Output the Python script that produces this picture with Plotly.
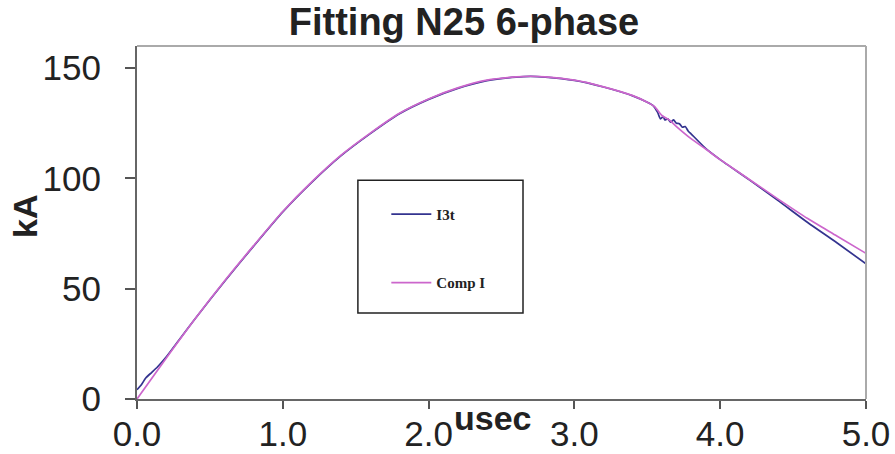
import plotly.graph_objects as go

# time axis (usec)
t_comp = [0.0, 0.2, 0.4, 0.6, 0.8, 1.0, 1.2, 1.4, 1.6, 1.8, 2.0, 2.2, 2.4, 2.6, 2.7,
          2.8, 3.0, 3.2, 3.4, 3.5, 3.55, 3.6, 3.65, 3.7, 3.8, 3.9, 4.0, 4.2, 4.4,
          4.6, 4.8, 5.0]
comp_i = [0.0, 18.5, 36.5, 53.5, 69.5, 85.0, 98.5, 110.5, 120.5, 129.5, 136.0, 141.0,
          144.5, 146.0, 146.3, 146.0, 144.5, 141.5, 137.5, 134.5, 132.5, 128.5, 126.5,
          123.5, 118.0, 113.3, 108.5, 99.5, 90.5, 81.8, 73.9, 66.0]

t_i3t = [0.0, 0.03, 0.06, 0.1, 0.14, 0.2, 0.3, 0.4, 0.6, 0.8, 1.0, 1.2, 1.4, 1.6, 1.8,
         2.0, 2.2, 2.4, 2.6, 2.7, 2.8, 3.0, 3.2, 3.4, 3.5, 3.54, 3.57, 3.59, 3.61,
         3.62, 3.64, 3.66, 3.68, 3.70, 3.72, 3.74, 3.76, 3.78, 3.8, 3.9, 4.0, 4.2,
         4.4, 4.6, 4.8, 5.0]
i3t = [4.2, 6.5, 9.5, 12.0, 14.5, 19.0, 27.8, 36.5, 53.3, 69.3, 84.8, 98.3, 110.3,
       120.3, 129.3, 135.8, 140.8, 144.3, 145.9, 146.2, 145.9, 144.4, 141.4, 137.4,
       134.5, 133.0, 130.0, 127.0, 128.0, 126.5, 127.0, 125.5, 126.5, 125.0, 124.8,
       123.2, 123.5, 121.5, 120.2, 113.6, 108.5, 99.3, 89.8, 80.0, 70.8, 61.3]

x_ticks = [0, 1, 2, 3, 4, 5]
x_labels = ["0.0", "1.0", "2.0", "3.0", "4.0", "5.0"]
y_ticks = [0, 50, 100, 150]

fig = go.Figure()
fig.add_trace(go.Scatter(x=t_i3t, y=i3t, mode="lines", name="<b>I3t</b>",
                         line=dict(color="#33338F", width=1.7, shape="spline",
                                   smoothing=0.6), legendgroup="a"))
fig.add_trace(go.Scatter(x=t_comp, y=comp_i, mode="lines", name="<b>Comp I</b>",
                         line=dict(color="#CC66CC", width=1.7, shape="spline",
                                   smoothing=0.6), legendgroup="b"))

tick_font = dict(family="Liberation Sans, Arial", size=35, color="#222222")
fig.update_layout(
    width=895, height=454,
    margin=dict(l=137, r=29, t=46, b=55, autoexpand=False),
    paper_bgcolor="white", plot_bgcolor="white",
    title=dict(text="<b>Fitting N25 6-phase</b>", x=464 / 895, xanchor="center",
               y=1 - 22 / 454, yanchor="middle",
               font=dict(family="Liberation Sans, Arial", size=38, color="#222222")),
    xaxis=dict(range=[0, 5], tickvals=x_ticks, ticktext=x_labels, ticks="outside",
               ticklen=8, tickwidth=2, tickcolor="#555555", showline=True,
               linecolor="#666666", linewidth=2, showgrid=False, zeroline=False,
               tickfont=tick_font, automargin=False, ticklabelstandoff=-5),
    yaxis=dict(range=[0, 160], tickvals=y_ticks, ticks="outside", ticklen=10,
               tickwidth=2, tickcolor="#555555", showline=True, linecolor="#666666",
               linewidth=2, showgrid=False, zeroline=False, tickfont=tick_font,
               automargin=False, ticklabelstandoff=17),
    showlegend=True,
    legend=dict(x=0.342, y=0.57, xanchor="left", yanchor="top", itemwidth=40,
                bgcolor="rgba(0,0,0,0)", borderwidth=0, tracegroupgap=46,
                font=dict(family="Liberation Serif, Times New Roman", size=15,
                          color="#222222")),
)

# top/right frame and legend box
fig.add_shape(type="line", xref="paper", yref="paper", x0=0, x1=1, y0=1, y1=1,
              line=dict(color="#AAAAAA", width=2))
fig.add_shape(type="line", xref="paper", yref="paper", x0=1, x1=1, y0=0, y1=1,
              line=dict(color="#AAAAAA", width=2))
fig.add_shape(type="rect", xref="paper", yref="paper", x0=0.303, x1=0.5295,
              y0=0.2436, y1=0.620, line=dict(color="#222222", width=1.5))

fig.add_annotation(text="<b>kA</b>", xref="paper", yref="paper",
                   x=-137 / 729 + 25 / 729, y=(399 - 217) / 353, textangle=-90,
                   showarrow=False, xanchor="center", yanchor="middle",
                   font=dict(family="Liberation Sans, Arial", size=34, color="#222222"))
fig.add_annotation(text="<b>usec</b>", xref="paper", yref="paper",
                   x=(493 - 137) / 729, y=(399 - 418) / 353, showarrow=False,
                   xanchor="center", yanchor="middle",
                   font=dict(family="Liberation Sans, Arial", size=34, color="#222222"))

fig.write_html("out.html")
